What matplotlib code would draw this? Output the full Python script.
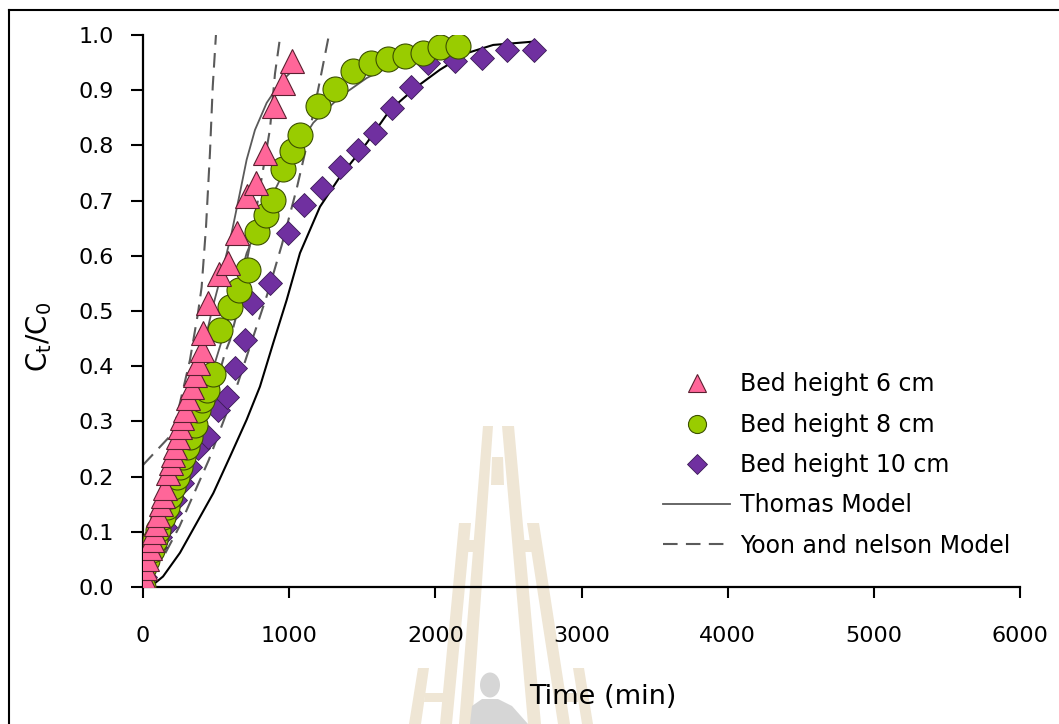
import matplotlib
matplotlib.use("Agg")
import matplotlib.pyplot as plt
from matplotlib.lines import Line2D
from matplotlib.patches import Polygon, Ellipse

# Breakthrough data, C_t/C_0 against time (min)
t_6cm = [0, 15, 30, 45, 60, 75, 90, 105, 120, 135, 150, 171, 190, 205, 220, 239,
         253, 267, 287, 308, 335, 356, 376, 404, 410, 445, 522, 584, 643, 709,
         773, 834, 896, 958, 1019]
c_6cm = [0.02, 0.035, 0.05, 0.07, 0.085, 0.10, 0.115, 0.13, 0.15, 0.165, 0.18,
         0.207, 0.225, 0.239, 0.254, 0.272, 0.29, 0.306, 0.321, 0.342, 0.362,
         0.384, 0.406, 0.429, 0.46, 0.514, 0.567, 0.587, 0.641, 0.708, 0.732,
         0.786, 0.871, 0.913, 0.952]

t_8cm = [0, 10, 25, 59, 82, 103, 137, 162, 185, 205, 230, 253, 274, 299, 321,
         356, 378, 401, 435, 481, 527, 595, 659, 720, 777, 841, 892, 955, 1017,
         1074, 1199, 1313, 1434, 1557, 1678, 1792, 1913, 2031, 2157]
c_8cm = [0.0, 0.036, 0.049, 0.067, 0.085, 0.103, 0.127, 0.145, 0.164, 0.182,
         0.20, 0.218, 0.236, 0.254, 0.272, 0.293, 0.321, 0.339, 0.357, 0.385,
         0.466, 0.508, 0.538, 0.574, 0.644, 0.674, 0.701, 0.757, 0.789, 0.819,
         0.871, 0.903, 0.935, 0.949, 0.956, 0.962, 0.968, 0.978, 0.980]

t_10cm = [14, 48, 82, 116, 150, 185, 219, 265, 321, 378, 447, 515, 572, 629,
          698, 743, 869, 990, 1103, 1222, 1347, 1468, 1587, 1706, 1831, 1952,
          2134, 2317, 2487, 2677]
c_10cm = [0.019, 0.055, 0.073, 0.091, 0.109, 0.134, 0.158, 0.188, 0.218, 0.251,
          0.272, 0.321, 0.345, 0.396, 0.447, 0.514, 0.550, 0.641, 0.692, 0.722,
          0.761, 0.792, 0.822, 0.867, 0.906, 0.949, 0.952, 0.958, 0.972, 0.973]

# Thomas model curves
thomas_6_t = [0, 100, 200, 300, 400, 480, 550, 606, 663, 709, 766, 846, 937, 1005]
thomas_6_c = [0.02, 0.10, 0.20, 0.31, 0.42, 0.51, 0.58, 0.641, 0.714, 0.774,
              0.828, 0.877, 0.913, 0.931]
thomas_8_t = [0, 150, 300, 450, 583, 709, 846, 1005, 1165, 1347, 1530, 1758,
              1984, 2150]
thomas_8_c = [0.02, 0.12, 0.23, 0.37, 0.484, 0.605, 0.689, 0.774, 0.841, 0.888,
              0.922, 0.952, 0.967, 0.975]
thomas_10_t = [68, 137, 253, 367, 481, 595, 709, 800, 891, 983, 1074, 1211,
               1347, 1530, 1689, 1872, 2031, 2214, 2396, 2670]
thomas_10_c = [0.004, 0.019, 0.062, 0.116, 0.170, 0.236, 0.303, 0.363, 0.442,
               0.520, 0.605, 0.689, 0.743, 0.804, 0.864, 0.906, 0.937, 0.967,
               0.982, 0.988]

# Yoon and Nelson model curves
yn_a_t = [0, 205, 321, 376, 401, 431, 458, 477, 499]
yn_a_c = [0.221, 0.279, 0.411, 0.496, 0.543, 0.652, 0.786, 0.906, 1.0]
yn_b_t = [50, 150, 250, 350, 450, 561, 595, 640, 760, 869, 903, 940]
yn_b_c = [0.04, 0.09, 0.16, 0.24, 0.32, 0.424, 0.447, 0.493, 0.66, 0.83, 0.93, 1.0]
yn_c_t = [50, 150, 250, 350, 450, 550, 650, 750, 850, 950, 1050, 1120, 1188,
          1211, 1272]
yn_c_c = [0.03, 0.06, 0.11, 0.17, 0.23, 0.30, 0.37, 0.45, 0.53, 0.62, 0.72,
          0.80, 0.888, 0.918, 1.0]

x_ticks = [0, 1000, 2000, 3000, 4000, 5000, 6000]
y_ticks = [0.0, 0.1, 0.2, 0.3, 0.4, 0.5, 0.6, 0.7, 0.8, 0.9, 1.0]

W, H = 1059, 724
fig = plt.figure(figsize=(W / 100, H / 100), dpi=100)


def px(points):
    """Figure-pixel coordinates (origin top left) to figure fraction."""
    return [(x / W, 1 - y / H) for x, y in points]


# faint background emblem
beige = "#efe6d5"
emblem = [
    [(483, 426), (493, 426), (472, 724), (459, 724)],
    [(502, 426), (514, 426), (541, 724), (528, 724)],
    [(492, 457), (503, 457), (504, 485), (491, 485)],
    [(459, 523), (471, 523), (452, 724), (440, 724)],
    [(527, 523), (539, 523), (570, 724), (558, 724)],
    [(468, 540), (477, 540), (476, 552), (467, 552)],
    [(522, 540), (532, 540), (533, 552), (523, 552)],
    [(418, 668), (429, 668), (421, 724), (409, 724)],
    [(573, 668), (584, 668), (593, 724), (582, 724)],
    [(425, 693), (448, 693), (447, 702), (424, 702)],
    [(554, 693), (577, 693), (578, 702), (555, 702)],
]
for pts in emblem:
    fig.add_artist(Polygon(px(pts), closed=True, fc=beige, ec="none", zorder=0))
fig.add_artist(Ellipse((490 / W, 1 - 685 / H), 20 / W, 25 / H, fc="#d6d6d6",
                       ec="none", zorder=0))
fig.add_artist(Polygon(px([(482, 699), (498, 699), (512, 706), (528, 724),
                           (470, 724), (472, 706)]),
                       closed=True, fc="#d6d6d6", ec="none", zorder=0))

ax = fig.add_axes([143 / W, 1 - 587 / H, (1020 - 143) / W, (587 - 35) / H])
ax.patch.set_alpha(0)

grey = "#5a5a5a"
dash = (7, 4)
ax.plot(thomas_6_t, thomas_6_c, color=grey, lw=1.3, zorder=2)
ax.plot(thomas_8_t, thomas_8_c, color=grey, lw=1.3, zorder=2)
ax.plot(thomas_10_t, thomas_10_c, color="black", lw=1.5, zorder=2)
for tt, cc in [(yn_a_t, yn_a_c), (yn_b_t, yn_b_c), (yn_c_t, yn_c_c)]:
    ax.plot(tt, cc, color=grey, lw=1.5, dashes=dash, zorder=2)

ax.plot(t_10cm, c_10cm, ls="none", marker="D", ms=12.5, mfc="#7030a0",
        mec="#3a1a55", mew=0.6, zorder=3)
ax.plot(t_8cm, c_8cm, ls="none", marker="o", ms=18, mfc="#99cc00",
        mec="#3c5000", mew=0.8, zorder=4)
ax.plot(t_6cm, c_6cm, ls="none", marker="^", ms=17, mfc="#ff6699",
        mec="#5a2030", mew=0.8, zorder=5)

ax.set_xlim(0, 6000)
ax.set_ylim(0, 1.0)
ax.set_xticks(x_ticks)
ax.set_yticks(y_ticks)
ax.set_yticklabels([f"{v:.1f}" for v in y_ticks])
for s in ["top", "right"]:
    ax.spines[s].set_visible(False)
for s in ["left", "bottom"]:
    ax.spines[s].set_linewidth(1.6)
ax.tick_params(axis="y", direction="out", length=9, width=1.5, labelsize=16, pad=12)
ax.tick_params(axis="x", direction="out", length=8, width=1.5, labelsize=16, pad=20)
ax.set_xlabel("Time (min)", fontsize=19.5)
ax.xaxis.set_label_coords((603 - 143) / (1020 - 143), -(684 - 587) / (587 - 35))
ax.set_ylabel(r"$\mathregular{C_t/C_0}$", fontsize=20)
ax.yaxis.set_label_coords(-(143 - 54) / (1020 - 143), (587 - 337) / (587 - 35))

handles = [
    Line2D([], [], ls="none", marker="^", ms=13, mfc="#ff6699", mec="#5a2030", mew=0.8),
    Line2D([], [], ls="none", marker="o", ms=13, mfc="#99cc00", mec="#3c5000", mew=0.8),
    Line2D([], [], ls="none", marker="D", ms=10, mfc="#7030a0", mec="#3a1a55", mew=0.6),
    Line2D([], [], color=grey, lw=1.3),
    Line2D([], [], color=grey, lw=1.5, dashes=dash),
]
labels = ["Bed height 6 cm", "Bed height 8 cm", "Bed height 10 cm",
          "Thomas Model", "Yoon and nelson Model"]
fig.legend(handles, labels, loc="upper left", bbox_to_anchor=(663 / W, 1 - 372.5 / H),
           frameon=False, fontsize=17, handlelength=2.85, handletextpad=0.42,
           labelspacing=0.69, borderpad=0, borderaxespad=0)

# frame around the figure
fig.add_artist(Line2D([9 / W, 9 / W], [0, 1 - 10 / H], color="black", lw=1.5))
fig.add_artist(Line2D([9 / W, 1], [1 - 10 / H, 1 - 10 / H], color="black", lw=1.5))

fig.savefig("out.png", dpi=100)
